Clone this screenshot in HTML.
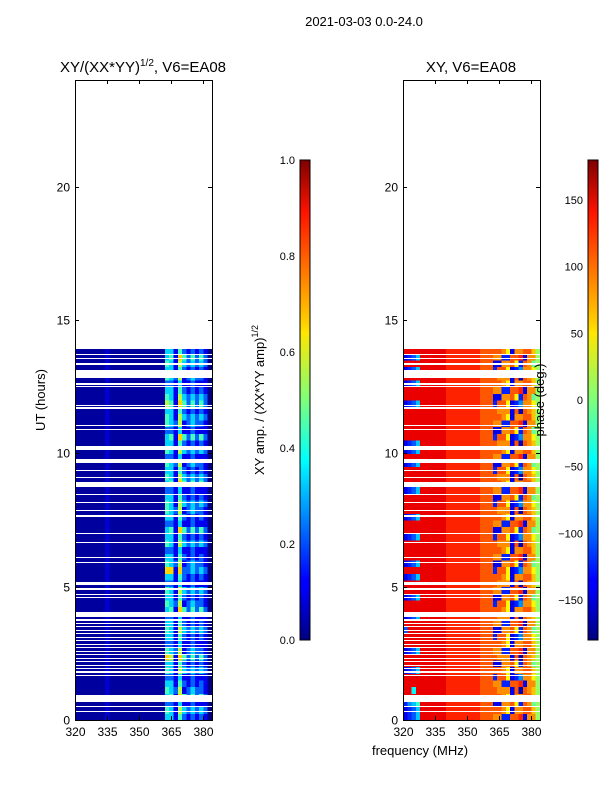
<!DOCTYPE html>
<html><head><meta charset="utf-8">
<style>
html,body{margin:0;padding:0;background:#fff;}
svg{display:block;font-family:"Liberation Sans",sans-serif;}
</style></head>
<body>
<svg id="fig" width="600" height="800" viewBox="0 0 600 800" xmlns="http://www.w3.org/2000/svg" shape-rendering="crispEdges">
<defs>
<linearGradient id="jetV" x1="0" y1="1" x2="0" y2="0">
<stop offset="0" stop-color="#00007f"/><stop offset="0.11" stop-color="#0000ff"/>
<stop offset="0.125" stop-color="#0000ff"/><stop offset="0.34" stop-color="#00dbff"/>
<stop offset="0.375" stop-color="#00ffff"/><stop offset="0.5" stop-color="#7dff7a"/>
<stop offset="0.64" stop-color="#ffe600"/><stop offset="0.66" stop-color="#ffd000"/>
<stop offset="0.89" stop-color="#ff1300"/><stop offset="1" stop-color="#7f0000"/>
</linearGradient>
</defs>
<text x="364" y="26" font-size="13" text-anchor="middle">2021-03-03 0.0-24.0</text>
<text x="143" y="72" font-size="15" text-anchor="middle">XY/(XX*YY)<tspan font-size="10" dy="-6">1/2</tspan><tspan dy="6">, V6=EA08</tspan></text>
<text x="471" y="72" font-size="15" text-anchor="middle">XY, V6=EA08</text>
<g id="ampPanel"></g>
<g id="phPanel"></g>
<g id="axes"></g>
<text transform="translate(45,400) rotate(-90)" font-size="13" text-anchor="middle">UT (hours)</text>
<text x="420" y="755" font-size="13" text-anchor="middle">frequency (MHz)</text>
<rect x="300" y="160" width="10" height="480" fill="url(#jetV)" stroke="#000" stroke-width="1"/>
<rect x="588" y="160" width="10" height="480" fill="url(#jetV)" stroke="#000" stroke-width="1"/>
<text transform="translate(264,400) rotate(-90)" font-size="13" text-anchor="middle">XY amp. / (XX*YY amp)<tspan font-size="9" dy="-6">1/2</tspan></text>
<text transform="translate(544,400) rotate(-90)" font-size="13" text-anchor="middle">phase (deg.)</text>
<g id="cbticks"></g>
</svg>
<script>
const NS="http://www.w3.org/2000/svg";
// ---- data ----
const freqEdges=[320,384];
const hourRange=[0,24];
const rowHours=0.25;
const ampLow=[0.03,0.03,0.03,0.03,0.03,0.03,0.03,0.08,0.03,0.03,0.03,0.03,0.03,0.03,0.03,0.03,0.03,0.03,0.03,0.03,0.03];
const ampHigh=["33142121210","43153232320","22131121110","34164242420","43251232210","33142121210","22131121110","43153232320",
"33142121210","65164242420","43251232210","22131121110","33142121210","43153232320","33142121210","22131121110",
"34164242420","43251232210","33142121210","43153232320","22131121110","33142121210","66162232320","43251232210",
"33142121210","22131121110","43153232320","33142121210","34164242420","22131121110","33142121210","43251232210",
"43153232320","33142121210","22131121110","34164242420","43153232320","33142121210","43251232210","22131121110",
"43153232320","33142121210","34164242420","22131121110","43251232210","43153232320","33142121210","54164242420",
"43153232320","33142121210","22131121110","43251232210","33142121210","43153232320","34164242420","33142121210"];
const phaseRows=[
"2346HHHHHHGGGGGGGGFFFEE33FFG2EEA","2346HHHHHHGGGGGGGGFFFFFEC2EEFFDA","3568HHHHHHGGGGGGGGFFF22EEFC3FE9A",
"HHHHHHHHHHGGGGGGGGFFFFFEC2EEFFDA","HH7HHHHHHHGGGGGGGGFFFFEEE2F1FEDA","HHHHHHHHHHGGGGGGGGFFFEE33FFG2EEA",
"HHHHHHHHHHGGGGGGGGFFF3FFC235EECA","2346HHHHHHGGGGGGGGFFFFFEC2EEFFDA","HHHHHHHHHHGGGGGGGGFFF22EEFC3FE9A",
"HHHHHHHHHHGGGGGGGGFFFFEEE2F1FEDA","2346HHHHHHGGGGGGGGFFFEE33FFG2EEA","HHHHHHHHHHGGGGGGGGFFFFFEC2EEFFDA",
"HHHHHHHHHHGGGGGGGGFFF3FFC235EECA","4HHHHHHHHHGGGGGGGGFFF22EEFC3FE9A","HHHHHHHHHHGGGGGGGGFFFEE33FFG2EEA",
"2346HHHHHHGGGGGGGGFFFFEEE2F1FEDA","HHHHHHHHHHGGGGGGGGFFFFFEC2EEFFDA","HHHHHHHHHHGGGGGGGGFFF3FFC235EECA",
"2346HHHHHHGGGGGGGGFFF22EEFC3FE9A","HHHHHHHHHHGGGGGGGGFFFEE33FFG2EEA","HHHHHHHHHHGGGGGGGGFFFFEEE2F1FEDA",
"2346HHHHHHGGGGGGGGFFFFFEC2EEFFDA","HHHHHHHHHHGGGGGGGGFFF3FFC235EECA","2346HHHHHHGGGGGGGGFFF22EEFC3FE9A",
"HHHHHHHHHHGGGGGGGGFFFEE33FFG2EEA","HHHHHHHHHHGGGGGGGGFFFFFEC2EEFFDA","HHHHHHHHHHGGGGGGGGFFFFEEE2F1FEDA",
"2346HHHHHHGGGGGGGGFFF3FFC235EECA","HHHHHHHHHHGGGGGGGGFFF22EEFC3FE9A","HHHHHHHHHHGGGGGGGGFFFEE33FFG2EEA",
"2346HHHHHHGGGGGGGGFFFFFEC2EEFFDA","HHHHHHHHHHGGGGGGGGFFFFEEE2F1FEDA","HHHHHHHHHHGGGGGGGGFFF3FFC235EECA",
"HHHHHHHHHHGGGGGGGGFFF22EEFC3FE9A","2346HHHHHHGGGGGGGGFFFEE33FFG2EEA","HHHHHHHHHHGGGGGGGGFFFFFEC2EEFFDA",
"HHHHHHHHHHGGGGGGGGFFFFEEE2F1FEDA","HHHHHHHHHHGGGGGGGGFFF3FFC235EECA","2346HHHHHHGGGGGGGGFFF22EEFC3FE9A",
"HHHHHHHHHHGGGGGGGGFFFEE33FFG2EEA","2346HHHHHHGGGGGGGGFFFFFEC2EEFFDA","2346HHHHHHGGGGGGGGFFFFEEE2F1FEDA",
"HHHHHHHHHHGGGGGGGGFFF3FFC235EECA","HHHHHHHHHHGGGGGGGGFFF22EEFC3FE9A","HHHHHHHHHHGGGGGGGGFFFEE33FFG2EEA",
"HHHHHHHHHHGGGGGGGGFFFFFEC2EEFFDA","HHHHHHHHHHGGGGGGGGFFFFEEE2F1FEDA","2346HHHHHHGGGGGGGGFFF3FFC235EECA",
"HHHHHHHHHHGGGGGGGGFFF22EEFC3FE9A","HHHHHHHHHHGGGGGGGGFFFEE33FFG2EEA","2346HHHHHHGGGGGGGGFFFFFEC2EEFFDA",
"HHHHHHHHHHGGGGGGGGFFFFEEE2F1FEDA","2346HHHHHHGGGGGGGGFFF3FFC235EECA","HHHHHHHHHHGGGGGGGGFFF22EEFC3FE9A",
"2346HHHHHHGGGGGGGGFFFEE33FFG2EEA","HHHHHHHHHHGGGGGGGGFFFFFEC2EEFFDA"];
const flagged=[[13.9,24],[13.67,13.71],[13.52,13.56],[13.33,13.37],[12.83,13.12],[12.58,12.62],[12.5,12.54],[11.79,11.83],[11.68,11.72],
[11.01,11.05],[10.86,10.9],[10.12,10.27],[9.64,9.79],[9.32,9.36],[9.06,9.1],[8.74,8.92],[8.42,8.46],[8.12,8.16],[7.82,7.86],[7.63,7.67],
[6.99,7.03],[6.62,6.66],[6.09,6.13],[5.87,5.91],[5.06,5.18],[4.88,4.95],[4.67,4.71],[4.56,4.6],[3.86,4.05],
[3.73,3.77],[3.6,3.64],[3.47,3.51],[3.34,3.38],[3.21,3.25],[3.08,3.12],[2.95,2.99],[2.82,2.86],[2.69,2.73],[2.56,2.6],[2.43,2.47],
[2.3,2.34],[2.17,2.21],[2.04,2.08],[1.91,1.95],[1.78,1.82],[1.65,1.69],[0.68,0.94],[0.5,0.54],[0.3,0.34]];
const yTicks=[0,5,10,15,20];
const xTicks=[320,335,350,365,380];
const ampCbTicks=[0.0,0.2,0.4,0.6,0.8,1.0];
const phCbTicks=[-150,-100,-50,0,50,100,150];
// ---- helpers ----
function jet(x){x=Math.max(0,Math.min(1,x));const c=v=>Math.round(255*Math.max(0,Math.min(1,v)));
return `rgb(${c(1.5-Math.abs(4*x-3))},${c(1.5-Math.abs(4*x-2))},${c(1.5-Math.abs(4*x-1))})`;}
const PY=80,PH=640,PW=137;
const yS=h=>PY+PH-(h-hourRange[0])/(hourRange[1]-hourRange[0])*PH;
const xS=(x0,f)=>x0+(f-freqEdges[0])/(freqEdges[1]-freqEdges[0])*PW;
function rect(g,x,y,w,h,fill){const r=document.createElementNS(NS,'rect');r.setAttribute('x',x);r.setAttribute('y',y);r.setAttribute('width',w);r.setAttribute('height',h);r.setAttribute('fill',fill);g.appendChild(r);return r;}
function txt(g,x,y,s,anchor,size){const t=document.createElementNS(NS,'text');t.setAttribute('x',x);t.setAttribute('y',y);t.setAttribute('font-size',size||12);t.setAttribute('text-anchor',anchor);t.textContent=s;g.appendChild(t);return t;}
const NCOL=32,df=(freqEdges[1]-freqEdges[0])/NCOL;
const code=ch=>parseInt(ch,36);
function drawPanel(g,x0,valueAt){
  for(let r=0;r<phaseRows.length;r++){
    const h0=r*rowHours,h1=h0+rowHours;
    for(let c=0;c<NCOL;c++){
      const f0=freqEdges[0]+c*df;
      const cell=rect(g,xS(x0,f0),yS(h1),xS(x0,f0+df)-xS(x0,f0)+0.5,yS(h0)-yS(h1)+0.5,jet(valueAt(r,c)));
      
      
    }
  }
  flagged.forEach(fl=>{const yt=Math.round(yS(fl[1]));const yb=Math.round(yS(fl[0]));
    const w=rect(g,x0,yt,PW,Math.max(1,yb-yt),'#fff');
    
    });
}
drawPanel(document.getElementById('ampPanel'),75,(r,c)=>c<21?ampLow[c]:code(ampHigh[r][c-21])/9);
drawPanel(document.getElementById('phPanel'),403,(r,c)=>{const deg=-180+code(phaseRows[r][c])*360/19;return (deg+180)/360;});
// axes
const ax=document.getElementById('axes');
[75,403].forEach((x0,i)=>{
  const fr=rect(ax,x0+0.5,PY+0.5,PW,PH,'none');fr.setAttribute('stroke','#000');
  
  
  yTicks.forEach(v=>{const y=Math.round(yS(v))+0.5;
    [[x0,x0+4],[x0+PW-4,x0+PW]].forEach(p=>{const l=document.createElementNS(NS,'line');l.setAttribute('x1',p[0]);l.setAttribute('x2',p[1]);l.setAttribute('y1',y);l.setAttribute('y2',y);l.setAttribute('stroke','#000');ax.appendChild(l);});
    const t=txt(ax,x0-5,y+4,String(v),'end',12);
    
    });
  xTicks.forEach(v=>{const x=Math.round(xS(x0,v))+0.5;
    [[PY+PH-4,PY+PH],[PY,PY+4]].forEach(p=>{const l=document.createElementNS(NS,'line');l.setAttribute('x1',x);l.setAttribute('x2',x);l.setAttribute('y1',p[0]);l.setAttribute('y2',p[1]);l.setAttribute('stroke','#000');ax.appendChild(l);});
    const t=txt(ax,x,PY+PH+16,String(v),'middle',12);
    
    });
});
const cb=document.getElementById('cbticks');
ampCbTicks.forEach(v=>{const y=640-v*480;const t=txt(cb,295,y+4,v.toFixed(1),'end',11);
  
  });
phCbTicks.forEach(v=>{const y=640-(v+180)/360*480;const t=txt(cb,583,y+4,v<0?'\u2212'+(-v):String(v),'end',11);
  
  });
</script>
</body></html>
